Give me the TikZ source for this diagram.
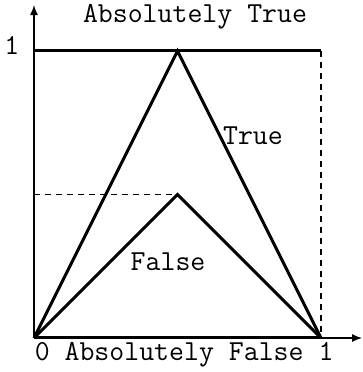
\documentclass[tikz,border=0pt]{standalone}
\usepackage{fontspec}
\usetikzlibrary{arrows.meta,positioning}
\tikzset{
  axis/.style={line width=0.6pt, -{Latex[length=5pt,width=4pt]}},
  curve/.style={line width=1.5pt, line join=miter},
  guide/.style={line width=0.6pt, dashed, dash pattern=on 3pt off 2.5pt},
  lbl/.style={font=\ttfamily\fontsize{14.5}{16}\selectfont, inner sep=0pt},
}
\begin{document}
\begin{tikzpicture}[x=143.5pt, y=143.5pt]
  \useasboundingbox (-0.1185,-0.1185) rectangle (1.1463,1.1777);
  % corner points
  \coordinate (o) at (0,0);
  \coordinate (one) at (1,0);
  \coordinate (top) at (0,1);
  \coordinate (topr) at (1,1);
  \coordinate (peak) at (0.5,1);
  \coordinate (mid) at (0.5,0.5);
  \coordinate (midl) at (0,0.5);
  \coordinate (yend) at (0,1.16);
  \coordinate (xend) at (1.143,0);
  % axes
  \draw[axis] (o) -- (yend);
  \draw[axis] (o) -- (xend);
  % guides
  \draw[guide] (topr) -- (one);
  \draw[guide] (midl) -- (mid);
  % lines
  \draw[curve] (top) -- (topr);
  \draw[curve] (o) -- (one);
  \draw[curve] (o) -- (peak) -- (one);
  \draw[curve] (o) -- (mid) -- (one);
  % labels
  \node[lbl] (abstrue) at (0.561,1.118) {Absolutely True};
  \node[lbl] (yone) at (-0.077,1.021) {1};
  \node[lbl] (true) at (0.763,0.704) {True};
  \node[lbl] (false) at (0.467,0.265) {False};
  \node[lbl] (absfalse) at (0.523,-0.059) {0 Absolutely False 1};
\end{tikzpicture}
\end{document}
